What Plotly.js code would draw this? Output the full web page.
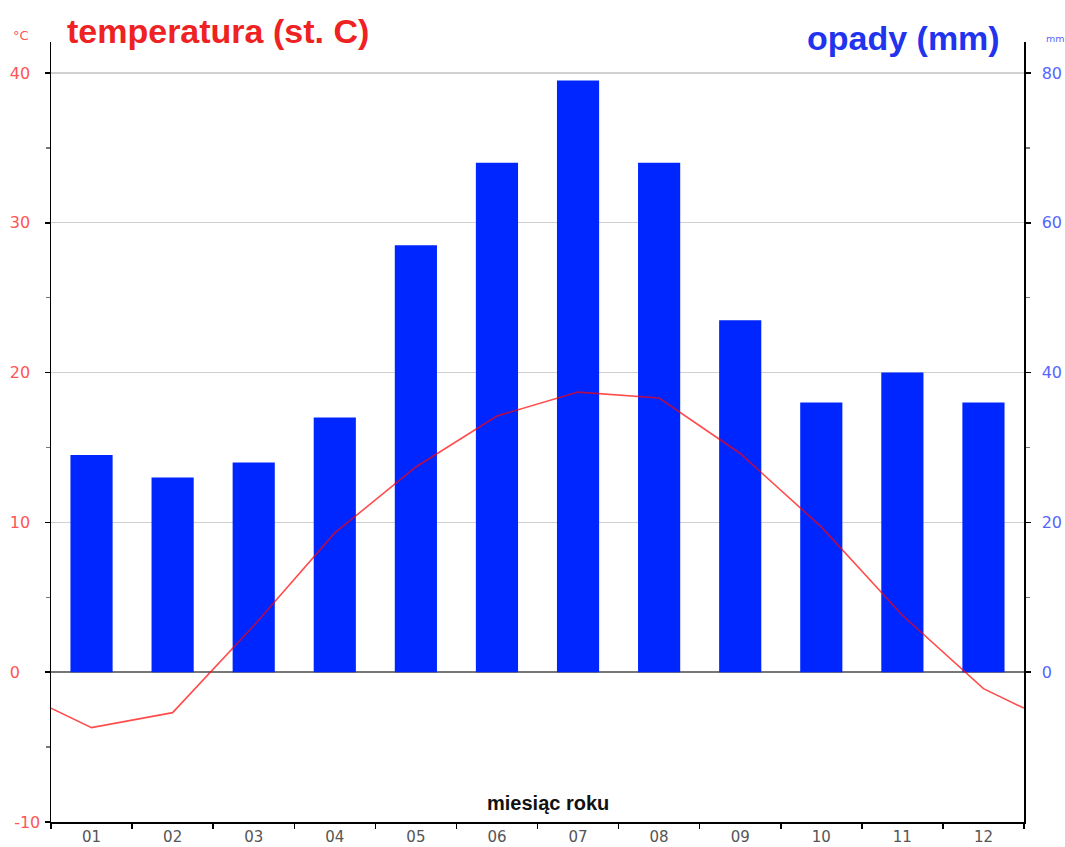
<!DOCTYPE html>
<html>
<head>
<meta charset="utf-8">
<script src="https://cdn.plot.ly/plotly-3.0.1.min.js"></script>
<style>html,body{margin:0;padding:0;background:#fff;}#chart{width:1065px;height:847px;}</style>
</head>
<body>
<div id="chart"></div>
<script>
const months = ['01','02','03','04','05','06','07','08','09','10','11','12'];
const precipitation = [29, 26, 28, 34, 57, 68, 79, 68, 47, 36, 40, 36];
const temperature = [-3.7, -2.7, 3.1, 9.3, 13.7, 17.1, 18.7, 18.3, 14.6, 9.7, 3.8, -1.1];
const tempTicks = [-10, 0, 10, 20, 30, 40];
const tempTickText = ['-10', '0\u2007\u2007', '10\u2007', '20\u2007', '30\u2007', '40\u2007'];
const rainTicks = [0, 20, 40, 60, 80];

const idx = months.map((m, i) => i);
// line continues to the plot edges (mid-point between December and January)
const edge = (temperature[0] + temperature[temperature.length - 1]) / 2;
const lineX = [-0.5].concat(idx, [months.length - 0.5]);
const lineY = [edge].concat(temperature, [edge]);

const tickFont = {family: 'DejaVu Sans, sans-serif', size: 16};

const data = [
  {type: 'bar', x: idx, y: precipitation, yaxis: 'y', xaxis: 'x',
   marker: {color: '#0026ff', line: {width: 0}}, width: 0.52, hoverinfo: 'y'},
  {type: 'scatter', mode: 'lines', x: lineX, y: lineY, yaxis: 'y2', xaxis: 'x',
   line: {color: 'rgba(255,0,0,0.7)', width: 1.6}, hoverinfo: 'y'}
];

const layout = {
  width: 1065, height: 847,
  margin: {l: 51, r: 41, t: 42, b: 25},
  paper_bgcolor: '#fff', plot_bgcolor: '#fff',
  showlegend: false,
  xaxis: {
    type: 'linear', range: [-0.5, 11.5], tickvals: idx, ticktext: months,
    ticks: '', showgrid: false, zeroline: false,
    showline: true, linecolor: '#000', linewidth: 1.5,
    tickfont: {family: 'DejaVu Sans, sans-serif', size: 15, color: '#555'},
    ticklabelstandoff: 0,
    minor: {tickmode: 'linear', tick0: -0.5, dtick: 1, ticks: 'outside', ticklen: 5, tickcolor: '#000', tickwidth: 1.5, showgrid: false},
    fixedrange: true
  },
  yaxis: {
    side: 'right', range: [-20, 84.13], tickvals: rainTicks,
    ticks: 'outside', ticklen: 5, tickcolor: '#000', tickwidth: 1.5,
    showline: true, linecolor: '#000', linewidth: 1.5,
    showgrid: true, gridcolor: '#d0d0d0', gridwidth: 1.2,
    zeroline: true, zerolinecolor: '#777', zerolinewidth: 2,
    tickfont: Object.assign({color: '#5566ff'}, tickFont),
    ticklabelstandoff: 8,
    minor: {tickmode: 'array', tickvals: [10, 30, 50, 70], ticks: 'outside', ticklen: 4, tickcolor: '#777', tickwidth: 1.5, showgrid: false},
    fixedrange: true
  },
  yaxis2: {
    overlaying: 'y', side: 'left', range: [-10, 42.07], tickvals: tempTicks, ticktext: tempTickText,
    ticks: 'outside', ticklen: 5, tickcolor: '#000', tickwidth: 1.5,
    showline: true, linecolor: '#000', linewidth: 1.5,
    showgrid: false, zeroline: false,
    tickfont: Object.assign({color: '#ff5555'}, tickFont),
    ticklabelstandoff: 1,
    minor: {tickmode: 'array', tickvals: [-5, 5, 15, 25, 35], ticks: 'outside', ticklen: 4, tickcolor: '#777', tickwidth: 1.5, showgrid: false},
    fixedrange: true
  },
  annotations: [
    {text: '<b>temperatura (st. C)</b>', xref: 'paper', yref: 'paper', x: 0.0144, y: 1.014,
     xanchor: 'left', yanchor: 'middle', showarrow: false,
     font: {family: 'Liberation Sans, Arial, sans-serif', size: 34, color: '#ee2222'}},
    {text: '<b>opady (mm)</b>', xref: 'paper', yref: 'paper', x: 0.977, y: 1.005,
     xanchor: 'right', yanchor: 'middle', showarrow: false,
     font: {family: 'Liberation Sans, Arial, sans-serif', size: 34, color: '#2233ee'}},
    {text: '°C', xref: 'paper', yref: 'paper', x: -0.021, y: 1.008,
     xanchor: 'right', yanchor: 'middle', showarrow: false,
     font: {family: 'DejaVu Sans, sans-serif', size: 13, color: '#ff5555'}},
    {text: 'mm', xref: 'paper', yref: 'paper', x: 1.0205, y: 1.005,
     xanchor: 'left', yanchor: 'middle', showarrow: false,
     font: {family: 'DejaVu Sans, sans-serif', size: 9.5, color: '#5566ff'}},
    {text: '<b>miesiąc roku</b>', xref: 'paper', yref: 'paper', x: 0.511, y: 0.024,
     xanchor: 'center', yanchor: 'middle', showarrow: false,
     font: {family: 'Liberation Sans, Arial, sans-serif', size: 20, color: '#111'}}
  ]
};

Plotly.newPlot('chart', data, layout, {staticPlot: true, displayModeBar: false});
</script>
</body>
</html>
